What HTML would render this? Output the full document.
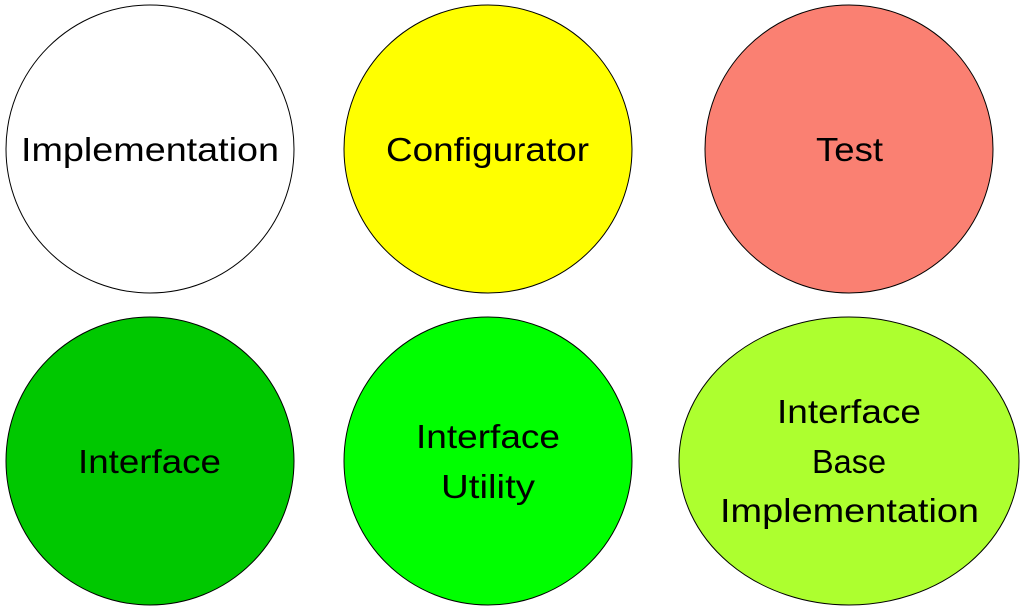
<!DOCTYPE html>
<html><head><meta charset="utf-8"><style>html,body{margin:0;padding:0;background:#fff;}svg{display:block}</style></head>
<body>
<svg width="1024" height="611" viewBox="0 0 1024 611" xmlns="http://www.w3.org/2000/svg" font-family="'Liberation Sans', sans-serif" font-size="33" fill="#000">
<circle cx="150" cy="149" r="144" fill="#ffffff" stroke="#000" stroke-width="1"/>
<circle cx="488" cy="149" r="144" fill="#ffff00" stroke="#000" stroke-width="1"/>
<circle cx="849" cy="149" r="144" fill="#fa8072" stroke="#000" stroke-width="1"/>
<circle cx="150" cy="461" r="144" fill="#00c800" stroke="#000" stroke-width="1"/>
<circle cx="488" cy="461" r="144" fill="#00ff00" stroke="#000" stroke-width="1"/>
<ellipse cx="849" cy="461" rx="170" ry="144" fill="#adff2f" stroke="#000" stroke-width="1"/>
<g text-anchor="start" lengthAdjust="spacingAndGlyphs">
<text x="21" y="161" textLength="258" lengthAdjust="spacingAndGlyphs">Implementation</text>
<text x="386" y="161" textLength="203" lengthAdjust="spacingAndGlyphs">Configurator</text>
<text x="816" y="161" textLength="67" lengthAdjust="spacingAndGlyphs">Test</text>
<text x="78" y="473" textLength="143" lengthAdjust="spacingAndGlyphs">Interface</text>
<text x="416" y="448" textLength="144" lengthAdjust="spacingAndGlyphs">Interface</text>
<text x="441" y="498" textLength="94" lengthAdjust="spacingAndGlyphs">Utility</text>
<text x="777" y="423" textLength="144" lengthAdjust="spacingAndGlyphs">Interface</text>
<text x="812" y="473" textLength="74" lengthAdjust="spacingAndGlyphs">Base</text>
<text x="720" y="522" textLength="259" lengthAdjust="spacingAndGlyphs">Implementation</text>
</g>
</svg>
</body></html>
